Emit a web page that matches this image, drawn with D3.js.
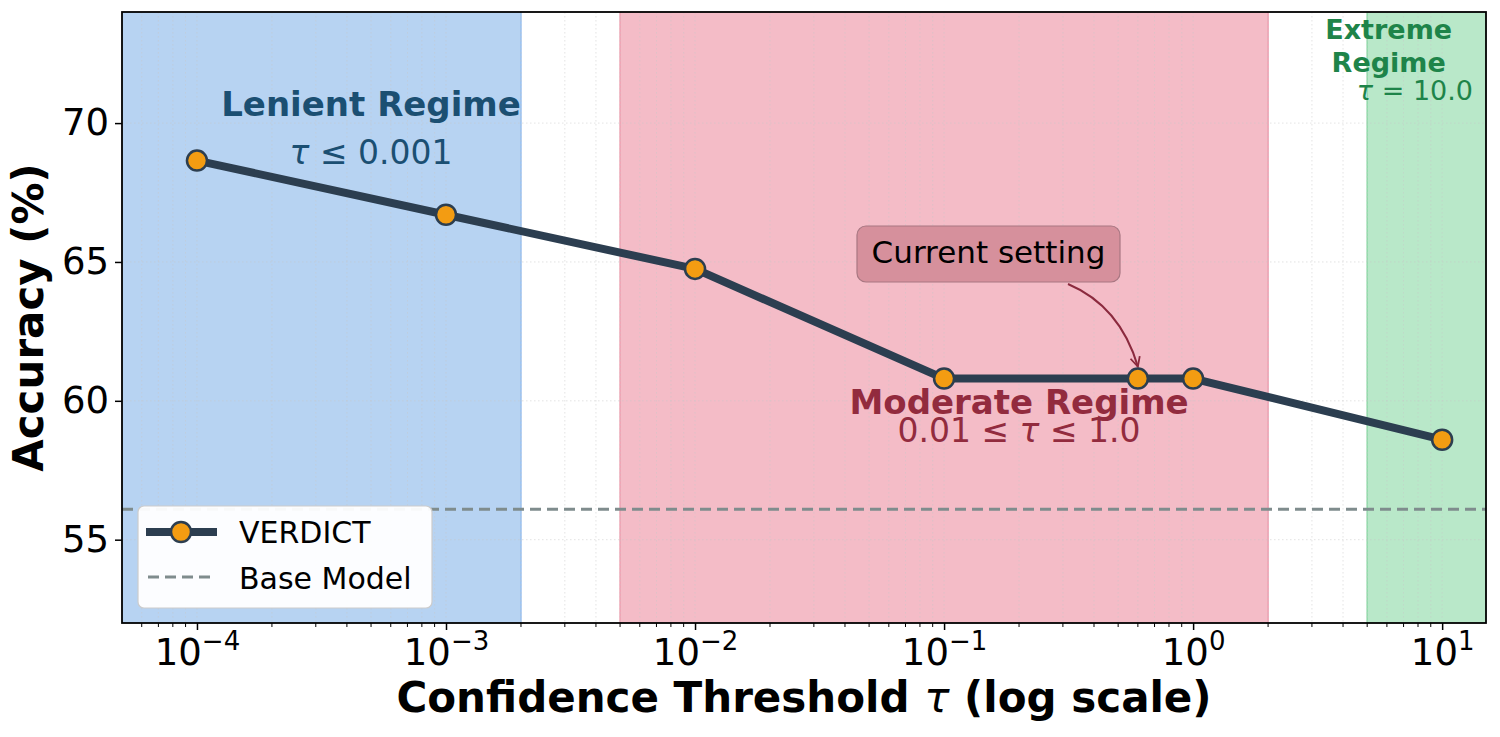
<!DOCTYPE html>
<html>
<head>
<meta charset="utf-8">
<script src="https://cdn.jsdelivr.net/npm/d3@7"></script>
<style>
  body { margin: 0; background: white; }
  text { font-family: "DejaVu Sans", sans-serif; }
</style>
</head>
<body>
<div id="canvas"></div>
<script>
// Data
var thresholds = [0.0001, 0.001, 0.01, 0.1, 0.6, 1.0, 10.0];
var accuracy = [68.65, 66.7, 64.75, 60.8, 60.8, 60.8, 58.6];
var baseModel = 56.1;
var currentSetting = 0.6;

var regimeNames = ["Lenient Regime", "Moderate Regime", "Extreme Regime"];
var regimeStart = [0.00005, 0.005, 5];
var regimeEnd = [0.002, 2, 15];
// range labels split as [before τ, after τ]
var regimeRanges = [["", " ≤ 0.001"], ["0.01 ≤ ", " ≤ 1.0"], ["", " = 10.0"]];

var xTickPowers = [-4, -3, -2, -1, 0, 1];
var yTicks = [55, 60, 65, 70];

// Dimensions
var w = 1500, h = 737;
var margin = {top: 12, right: 14, bottom: 114, left: 122};

var svg = d3.select("#canvas")
    .append("svg")
    .attr("width", w)
    .attr("height", h)
    .style("background-color", "white");

var x_scale = d3.scaleLog()
    .domain([0.00005, 15])
    .range([margin.left, w - margin.right]);

var y_scale = d3.scaleLinear()
    .domain([52, 74])
    .range([h - margin.bottom, margin.top]);

var x0 = margin.left, x1 = w - margin.right;
var y0 = margin.top, y1 = h - margin.bottom;

// regime shading
var fills = ["#b7d3f2", "#f4bcc7", "#b9e8c9"];
var edges = ["#98bff0", "#ef9fb0", "#8fdba8"];
svg.selectAll("rect.regime")
    .data(regimeStart)
    .join("rect")
    .attr("class", "regime")
    .attr("x", d => x_scale(d))
    .attr("width", (d, i) => x_scale(regimeEnd[i]) - x_scale(d))
    .attr("y", y0)
    .attr("height", y1 - y0)
    .attr("fill", (d, i) => fills[i]);

svg.selectAll("line.regime-edge")
    .data(regimeStart.concat(regimeEnd))
    .join("line")
    .attr("class", "regime-edge")
    .attr("x1", d => x_scale(d)).attr("x2", d => x_scale(d))
    .attr("y1", y0).attr("y2", y1)
    .attr("stroke", (d, i) => edges[i % 3])
    .attr("stroke-width", 1.5)
    .attr("opacity", d => (d <= 0.00005 || d >= 15) ? 0 : 1);

// minor ticks (log)
var minorTicks = [];
xTickPowers.concat([-5]).forEach(p => {
    for (var k = 2; k <= 9; k++) {
        var v = k * Math.pow(10, p);
        if (v > 0.00005 && v < 15) minorTicks.push(v);
    }
});
var majorX = xTickPowers.map(p => Math.pow(10, p));

// grid
var grid = svg.append("g");
grid.selectAll("line.gx")
    .data(majorX.concat(minorTicks))
    .join("line")
    .attr("x1", d => x_scale(d)).attr("x2", d => x_scale(d))
    .attr("y1", y0).attr("y2", y1)
    .attr("stroke", "#c8c8c8")
    .attr("stroke-width", 0.8)
    .attr("stroke-dasharray", "1.5,2.5")
    .attr("opacity", 0.6);
grid.selectAll("line.gy")
    .data(yTicks)
    .join("line")
    .attr("x1", x0).attr("x2", x1)
    .attr("y1", d => y_scale(d)).attr("y2", d => y_scale(d))
    .attr("stroke", "#c8c8c8")
    .attr("stroke-width", 0.8)
    .attr("stroke-dasharray", "1.5,2.5")
    .attr("opacity", 0.6);

// base model line
svg.append("line")
    .attr("x1", x0).attr("x2", x1)
    .attr("y1", y_scale(baseModel)).attr("y2", y_scale(baseModel))
    .attr("stroke", "#7f8c8d")
    .attr("stroke-width", 3)
    .attr("stroke-dasharray", "11,6");

// helper: text with an italic tau in the middle
function tauText(sel, parts) {
    sel.append("tspan").text(parts[0]);
    sel.append("tspan").attr("font-style", "italic").attr("font-weight", "normal").text("τ");
    sel.append("tspan").text(parts[1]);
}

// regime labels
var lenientX = 0.0005, moderateX = 0.2, extremeX = 6.1;
var lenColor = "#1b4f72", modColor = "#922b3e", extColor = "#1e8449";

svg.append("text")
    .attr("x", x_scale(lenientX)).attr("y", 116)
    .attr("text-anchor", "middle")
    .attr("font-size", 34).attr("font-weight", "bold")
    .attr("fill", lenColor)
    .text(regimeNames[0]);
svg.append("text")
    .attr("x", x_scale(lenientX)).attr("y", 164)
    .attr("text-anchor", "middle")
    .attr("font-size", 33)
    .attr("fill", lenColor)
    .call(tauText, regimeRanges[0]);

// current setting annotation
var cx = x_scale(currentSetting), cy = y_scale(60.8);
var bx0 = 857, bx1 = 1120, by0 = 226, by1 = 282;
svg.append("rect")
    .attr("x", bx0).attr("y", by0)
    .attr("width", bx1 - bx0).attr("height", by1 - by0)
    .attr("rx", 9)
    .attr("fill", "#d6909c")
    .attr("stroke", "#a87782")
    .attr("stroke-width", 1.2);
svg.append("text")
    .attr("x", (bx0 + bx1) / 2).attr("y", 263)
    .attr("text-anchor", "middle")
    .attr("font-size", 31)
    .attr("fill", "black")
    .text("Current setting");

svg.append("defs").append("marker")
    .attr("id", "arrow")
    .attr("viewBox", "0 0 10 10")
    .attr("refX", 9).attr("refY", 5)
    .attr("markerWidth", 6).attr("markerHeight", 6)
    .attr("orient", "auto")
    .append("path")
    .attr("d", "M1,1 L9,5 L1,9")
    .attr("fill", "none")
    .attr("stroke", "#8b2a3e")
    .attr("stroke-width", 1.5);

var ax = 1068, ay = 284, ex = cx, ey = cy - 12;
svg.append("path")
    .attr("d", `M${ax},${ay} Q${ax + 52},${ay + 22} ${ex},${ey}`)
    .attr("fill", "none")
    .attr("stroke", "#8b2a3e")
    .attr("stroke-width", 2)
    .attr("marker-end", "url(#arrow)");

// main line
var pts = thresholds.map((t, i) => [t, accuracy[i]]);
svg.append("path")
    .datum(pts)
    .attr("d", d3.line().x(d => x_scale(d[0])).y(d => y_scale(d[1])))
    .attr("fill", "none")
    .attr("stroke", "#2c3e50")
    .attr("stroke-width", 8)
    .attr("stroke-linejoin", "round");

svg.selectAll("circle.pt")
    .data(pts)
    .join("circle")
    .attr("class", "pt")
    .attr("cx", d => x_scale(d[0]))
    .attr("cy", d => y_scale(d[1]))
    .attr("r", 10)
    .attr("fill", "#f39c12")
    .attr("stroke", "#2c3e50")
    .attr("stroke-width", 2.5);

// moderate text drawn over the line
svg.append("text")
    .attr("x", x_scale(moderateX)).attr("y", 414)
    .attr("text-anchor", "middle")
    .attr("font-size", 34).attr("font-weight", "bold")
    .attr("fill", modColor)
    .text(regimeNames[1]);
svg.append("text")
    .attr("x", x_scale(moderateX)).attr("y", 442)
    .attr("text-anchor", "middle")
    .attr("font-size", 33)
    .attr("fill", modColor)
    .call(tauText, regimeRanges[1]);

// extreme text
svg.append("text")
    .attr("x", x_scale(extremeX)).attr("y", 39)
    .attr("text-anchor", "middle")
    .attr("font-size", 27).attr("font-weight", "bold")
    .attr("fill", extColor)
    .text(regimeNames[2].split(" ")[0]);
svg.append("text")
    .attr("x", x_scale(extremeX)).attr("y", 72)
    .attr("text-anchor", "middle")
    .attr("font-size", 27).attr("font-weight", "bold")
    .attr("fill", extColor)
    .text(regimeNames[2].split(" ")[1]);
svg.append("text")
    .attr("x", 1473).attr("y", 100)
    .attr("text-anchor", "end")
    .attr("font-size", 27)
    .attr("fill", extColor)
    .call(tauText, regimeRanges[2]);

// axes
var xAxis = svg.append("g")
    .attr("transform", `translate(0,${y1})`)
    .call(d3.axisBottom(x_scale).tickValues(majorX).tickFormat("").tickSize(7));
xAxis.select(".domain").remove();
xAxis.selectAll("line").attr("stroke", "black").attr("stroke-width", 1.5);
xAxis.selectAll(".tick").each(function(d) {
    var p = Math.round(Math.log10(d));
    var t = d3.select(this).append("text")
        .attr("y", 42)
        .attr("fill", "black")
        .attr("font-size", 37)
        .attr("text-anchor", "middle");
    t.append("tspan").text("10");
    t.append("tspan").attr("dy", -15).attr("font-size", 26)
        .text(p < 0 ? "−" + Math.abs(p) : String(p));
});
svg.append("g")
    .attr("transform", `translate(0,${y1})`)
    .selectAll("line")
    .data(minorTicks)
    .join("line")
    .attr("x1", d => x_scale(d)).attr("x2", d => x_scale(d))
    .attr("y1", 0).attr("y2", 4)
    .attr("stroke", "black").attr("stroke-width", 1);

var yAxis = svg.append("g")
    .attr("transform", `translate(${x0},0)`)
    .call(d3.axisLeft(y_scale).tickValues(yTicks).tickSize(7).tickPadding(6));
yAxis.select(".domain").remove();
yAxis.selectAll("line").attr("stroke", "black").attr("stroke-width", 1.5);
yAxis.selectAll("text")
    .attr("font-size", 37)
    .attr("fill", "black")
    .attr("font-family", "DejaVu Sans");

// frame
svg.append("rect")
    .attr("x", x0).attr("y", y0)
    .attr("width", x1 - x0).attr("height", y1 - y0)
    .attr("fill", "none")
    .attr("stroke", "black")
    .attr("stroke-width", 1.8);

// axis titles
svg.append("text")
    .attr("x", (x0 + x1) / 2).attr("y", 712)
    .attr("text-anchor", "middle")
    .attr("font-size", 42).attr("font-weight", "bold")
    .call(tauText, ["Confidence Threshold ", " (log scale)"]);
svg.append("text")
    .attr("transform", `translate(43,${(y0 + y1) / 2}) rotate(-90)`)
    .attr("text-anchor", "middle")
    .attr("font-size", 42).attr("font-weight", "bold")
    .text("Accuracy (%)");

// legend
var lg = svg.append("g").attr("transform", "translate(138,506)");
lg.append("rect")
    .attr("width", 294).attr("height", 102)
    .attr("rx", 6)
    .attr("fill", "white").attr("fill-opacity", 0.95)
    .attr("stroke", "#cccccc").attr("stroke-width", 1.2);
lg.append("line")
    .attr("x1", 8).attr("x2", 79).attr("y1", 26).attr("y2", 26)
    .attr("stroke", "#2c3e50").attr("stroke-width", 8);
lg.append("circle")
    .attr("cx", 43).attr("cy", 26).attr("r", 10)
    .attr("fill", "#f39c12").attr("stroke", "#2c3e50").attr("stroke-width", 2.5);
lg.append("line")
    .attr("x1", 10).attr("x2", 77).attr("y1", 71).attr("y2", 71)
    .attr("stroke", "#7f8c8d").attr("stroke-width", 3)
    .attr("stroke-dasharray", "11,6");
lg.append("text").attr("x", 101).attr("y", 37)
    .attr("font-size", 30).text("VERDICT");
lg.append("text").attr("x", 101).attr("y", 83)
    .attr("font-size", 30).text("Base Model");
</script>
</body>
</html>
